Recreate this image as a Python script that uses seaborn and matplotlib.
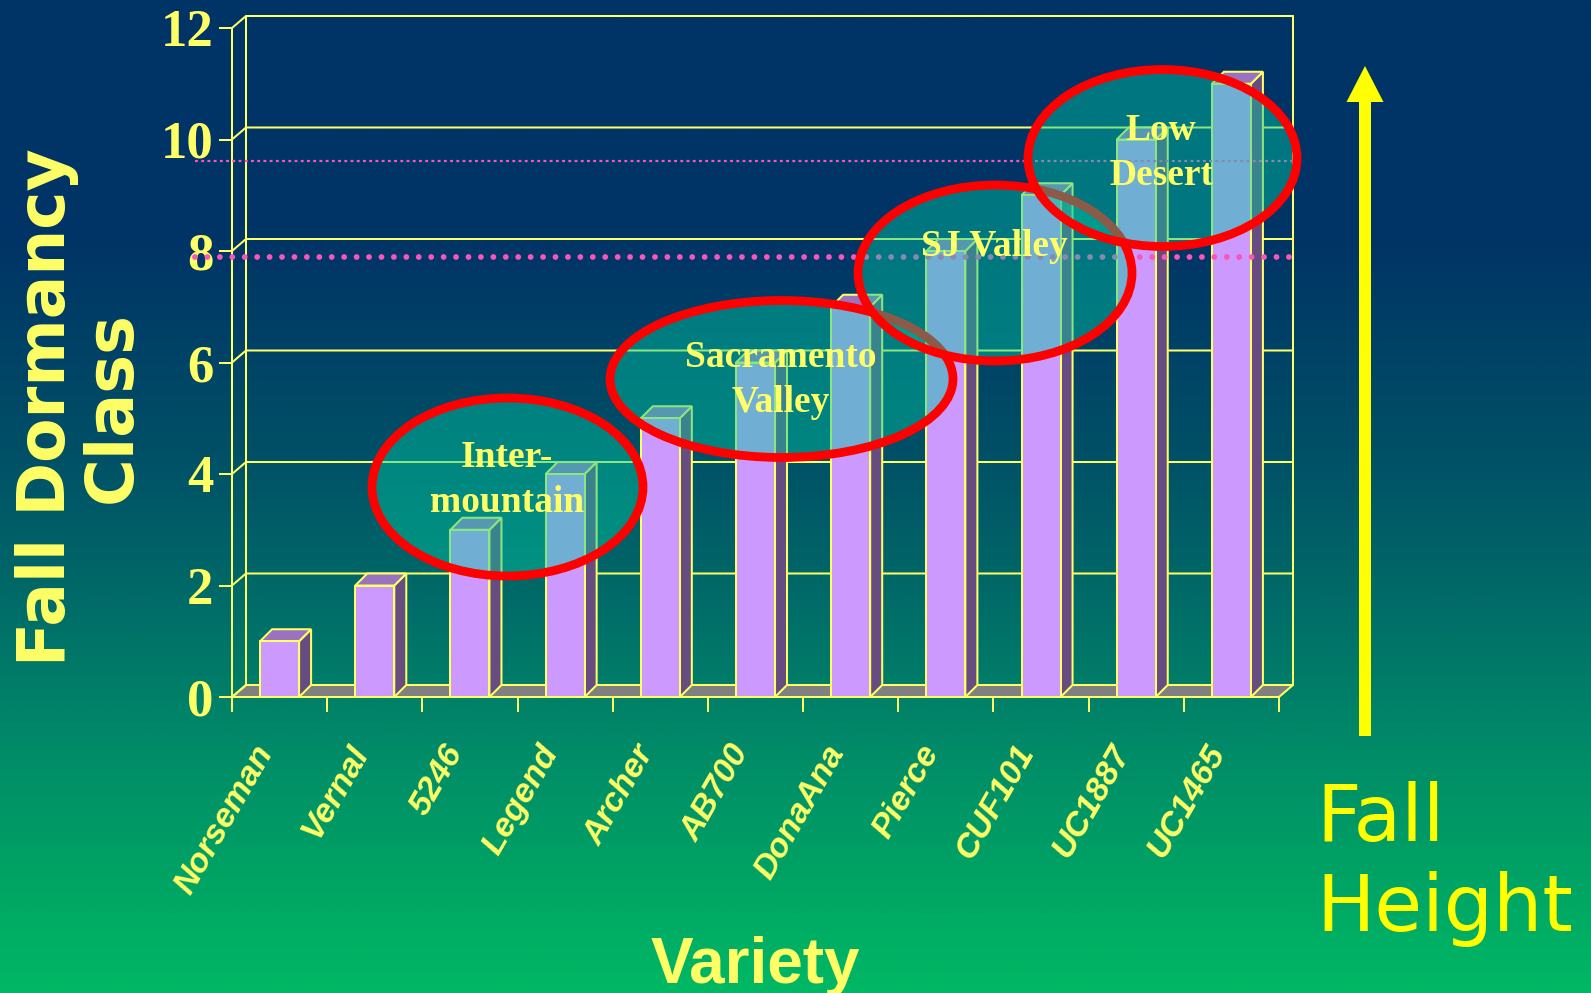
import numpy as np
import pandas as pd
import matplotlib
matplotlib.use('Agg')
import matplotlib.pyplot as plt
from matplotlib.colors import LinearSegmentedColormap
from matplotlib.patches import Ellipse, Polygon, FancyArrow
import seaborn as sns

# chart data
varieties = ['Norseman', 'Vernal', '5246', 'Legend', 'Archer', 'AB700',
             'DonaAna', 'Pierce', 'CUF101', 'UC1887', 'UC1465']
dormancy_class = [1, 2, 3, 4, 5, 6, 7, 8, 9, 10, 11]
y_ticks = [0, 2, 4, 6, 8, 10, 12]
dotted_levels = [7.89, 9.61]

# colours
YELLOW = '#FFFF66'
PINK = '#FA55B8'
FRONT = '#CC99FF'
SIDE = '#664C80'
TOP = '#9973BF'
FLOOR = '#808080'
LW = 1.45

W, H = 1591, 993
X0, X1, Y0, Y1 = 232, 1279, 697, 28   # front plane of the chart, in pixels

sns.set_style('white')
fig = plt.figure(figsize=(W / 100, H / 100), dpi=100)

# background gradient
ax_bg = fig.add_axes([0, 0, 1, 1], zorder=0)
stops = [(0, '#003366'), (0.25, '#003566'), (0.45, '#004F66'), (0.6, '#006A68'),
         (0.75, '#008A68'), (0.9, '#00A664'), (1, '#00B864')]
cmap = LinearSegmentedColormap.from_list('bg', stops)
ax_bg.imshow(np.linspace(0, 1, 512).reshape(-1, 1), cmap=cmap, aspect='auto')
ax_bg.axis('off')

# main axes
ax = fig.add_axes([X0 / W, 1 - Y0 / H, (X1 - X0) / W, (Y0 - Y1) / H], zorder=1)
ax.patch.set_alpha(0)
df = pd.DataFrame({'variety': varieties, 'dormancy': dormancy_class})
sns.barplot(data=df, x='variety', y='dormancy', color=FRONT, saturation=1, width=0.41,
            edgecolor=YELLOW, linewidth=LW, zorder=4, ax=ax)
ax.set_xlim(-0.5, 10.5)
ax.set_ylim(0, 12)
ax.set_xlabel('')
ax.set_ylabel('')

# depth of the fake 3d, pixels to data units
px_x = (len(varieties)) / (X1 - X0)
px_y = 12 / (Y0 - Y1)
wall_dx, wall_dy = 14 * px_x, 12 * px_y
bar_dx, bar_dy = 12 * px_x, 12 * px_y

bars = list(ax.patches)

# back wall, left wall and floor
ax.add_patch(Polygon([(-0.5, 0), (10.5, 0), (10.5 + wall_dx, wall_dy), (-0.5 + wall_dx, wall_dy)],
                     fc=FLOOR, ec=YELLOW, lw=LW, zorder=1, clip_on=False))
for v in y_ticks:
    ax.plot([-0.5, -0.5 + wall_dx, 10.5 + wall_dx], [v, v + wall_dy, v + wall_dy],
            color=YELLOW, lw=LW, zorder=1, clip_on=False)
ax.plot([-0.5 + wall_dx] * 2, [wall_dy, 12 + wall_dy], color=YELLOW, lw=LW, zorder=1, clip_on=False)
ax.plot([10.5 + wall_dx] * 2, [wall_dy, 12 + wall_dy], color=YELLOW, lw=LW, zorder=1, clip_on=False)

# side and top of every bar
for bar in bars:
    x, w, h = bar.get_x(), bar.get_width(), bar.get_height()
    ax.add_patch(Polygon([(x + w, 0), (x + w + bar_dx, bar_dy), (x + w + bar_dx, h + bar_dy), (x + w, h)],
                         fc=SIDE, ec=YELLOW, lw=LW, zorder=3, clip_on=False))
    ax.add_patch(Polygon([(x, h), (x + w, h), (x + w + bar_dx, h + bar_dy), (x + bar_dx, h + bar_dy)],
                         fc=TOP, ec=YELLOW, lw=LW, zorder=3, clip_on=False))

# axis lines, ticks, labels
sns.despine(ax=ax)
for s in ['left', 'bottom']:
    ax.spines[s].set_color(YELLOW)
    ax.spines[s].set_linewidth(LW)
    ax.spines[s].set_zorder(5)
ax.set_yticks(y_ticks)
ax.set_yticklabels([str(v) for v in y_ticks], family='Liberation Serif', weight='bold',
                   size=38, color=YELLOW)
ax.tick_params(axis='y', left=True, length=9.4, width=LW, color=YELLOW, pad=4)
ax.set_xticks(range(len(varieties)))
ax.set_xticklabels(varieties, family='Liberation Sans', weight='bold', style='italic', size=24.5,
                   color=YELLOW, rotation=60, ha='right', va='bottom', rotation_mode='anchor')
ax.set_xticks(np.arange(-0.5, 11), minor=True)
ax.tick_params(axis='x', which='major', bottom=False, length=0, pad=42)
ax.tick_params(axis='x', which='minor', bottom=True, length=10.8, width=LW, color=YELLOW)

# overlay in pixel coordinates for the annotations
ov = fig.add_axes([0, 0, 1, 1], zorder=2)
ov.set_xlim(0, W)
ov.set_ylim(H, 0)
ov.axis('off')


def val_y(v):
    return Y0 - v * (Y0 - Y1) / 12


ov.plot([195, 1298], [val_y(dotted_levels[0])] * 2, color=PINK, lw=4.2,
        linestyle=(0, (0.001, 2.13)), dash_capstyle='round', zorder=1)
ov.plot([195, 1298], [val_y(dotted_levels[1])] * 2, color=PINK, lw=1.6,
        linestyle=(0, (1.3, 1.5)), zorder=1)

# regions, drawn in order so later fills cover earlier outlines
regions = [('Inter-\nmountain', 507.5, 487, 271, 178, 507, 480),
           ('Sacramento\nValley', 781.5, 379, 343, 157, 781, 380),
           ('SJ Valley', 995, 273, 274, 176, 994, 246),
           ('Low\nDesert', 1162.5, 158, 269, 177, 1161, 153)]
for i, (name, cx, cy, ew, eh, tx, ty) in enumerate(regions):
    ov.add_patch(Ellipse((cx, cy), ew, eh, fc=(0, 200 / 255, 160 / 255, 0.45), ec='#FF0000',
                         lw=6.3, zorder=2 + i))
    ov.text(tx, ty, name, family='Liberation Serif', weight='bold', size=27, color=YELLOW,
            ha='center', va='center', linespacing=1.38, zorder=10)

# fall height arrow
ov.add_patch(FancyArrow(1365, 736, 0, -670, width=12, head_width=37, head_length=36,
                        length_includes_head=True, fc='#FFFF00', ec='none', zorder=1))
ov.text(1316, 841, 'Fall', family='DejaVu Sans', size=56, color='#FFFF00', va='baseline', ha='left')
ov.text(1316, 931, 'Height', family='DejaVu Sans', size=56, color='#FFFF00', va='baseline', ha='left')

# axis titles
ov.text(47, 407, 'Fall Dormancy', family='DejaVu Sans', weight='bold', size=46.5, color=YELLOW,
        rotation=90, ha='center', va='center')
ov.text(113, 407, 'Class', family='DejaVu Sans', weight='bold', size=47, color=YELLOW,
        rotation=90, ha='center', va='center')
ov.text(755, 983, 'Variety', family='Liberation Sans', weight='bold', size=46, color=YELLOW,
        ha='center', va='baseline')

fig.savefig('out.png', dpi=100)
